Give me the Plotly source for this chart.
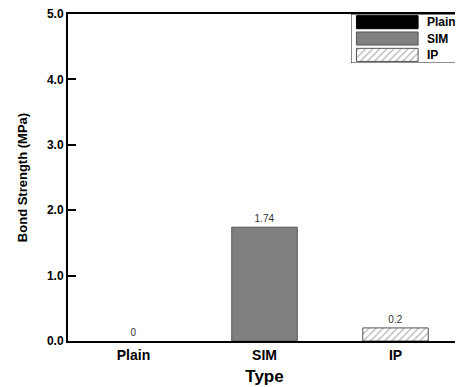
import plotly.graph_objects as go

categories = ["Plain", "SIM", "IP"]
values = [0, 1.74, 0.2]
value_labels = ["0", "1.74", "0.2"]
y_ticks = [0, 1, 2, 3, 4, 5]
y_tick_labels = ["0.0", "1.0", "2.0", "3.0", "4.0", "5.0"]
legend_names = ["Plain", "SIM", "IP"]

fills = ["black", "#808080", "white"]
lines = ["black", "#555555", "#555555"]
patterns = ["", "", "/"]
FONT = "Liberation Sans, Arial"

fig = go.Figure()
for i, c in enumerate(categories):
    fig.add_trace(go.Bar(
        x=[c], y=[values[i]], width=0.5,
        marker=dict(color=fills[i], line=dict(color=lines[i], width=1 if values[i] else 0),
                    pattern=dict(shape=patterns[i], fgcolor="#666666", bgcolor="white",
                                 size=5, solidity=0.25)),
        text=[value_labels[i]], textposition="outside",
        textfont=dict(family=FONT, size=10, color="#333333"),
        cliponaxis=False, showlegend=False,
    ))

# custom legend on a small auxiliary axis
leg_y = [2.5, 1.5, 0.5]
for i, n in enumerate(legend_names):
    fig.add_trace(go.Bar(
        x=[0.56], y=[leg_y[i]], base=[0.05], orientation="h", width=0.8,
        marker=dict(color=fills[i], line=dict(color=lines[i], width=1),
                    pattern=dict(shape=patterns[i], fgcolor="#666666", bgcolor="white",
                                 size=5, solidity=0.25)),
        xaxis="x2", yaxis="y2", showlegend=False, hoverinfo="skip",
    ))
    fig.add_annotation(x=0.67, y=leg_y[i], xref="x2", yref="y2", text="<b>%s</b>" % n,
                       showarrow=False, xanchor="left",
                       font=dict(family=FONT, size=12, color="black"))

fig.update_layout(
    width=455, height=379,
    margin=dict(l=60, r=2, t=6, b=46),
    plot_bgcolor="white", paper_bgcolor="white",
    showlegend=False,
    xaxis=dict(
        range=[-0.5, 2.5], showline=True, linecolor="black", linewidth=2, mirror=True,
        ticks="", showgrid=False, zeroline=False, automargin=False,
        tickfont=dict(family=FONT, size=14, color="black"),
        tickvals=categories, ticktext=["<b>%s</b>" % c for c in categories],
        title=dict(text="<b>Type</b>", font=dict(family=FONT, size=17, color="black"),
                   standoff=8),
    ),
    yaxis=dict(
        range=[0, 5], showline=True, linecolor="black", linewidth=2, mirror=False,
        ticks="inside", ticklen=8, tickwidth=2, tickcolor="black",
        showgrid=False, zeroline=False, automargin=False, ticklabeloverflow="allow",
        tickvals=y_ticks, ticktext=["<b>%s</b>" % t for t in y_tick_labels],
        tickfont=dict(family=FONT, size=12, color="black"),
        title=dict(text="<b>Bond Strength (MPa)</b>", font=dict(family=FONT, size=13, color="black"),
                   standoff=16),
    ),
    xaxis2=dict(domain=[0.72, 1.0], range=[0, 1], visible=False, fixedrange=True,
                anchor="y2", automargin=False),
    yaxis2=dict(domain=[0.85, 1.0], range=[0, 3], visible=False, fixedrange=True,
                anchor="x2", automargin=False),
)
fig.add_shape(type="rect", xref="x2", yref="y2", x0=0, x1=1.0, y0=0, y1=3,
              line=dict(color="black", width=1))

fig.write_html("out.html")
